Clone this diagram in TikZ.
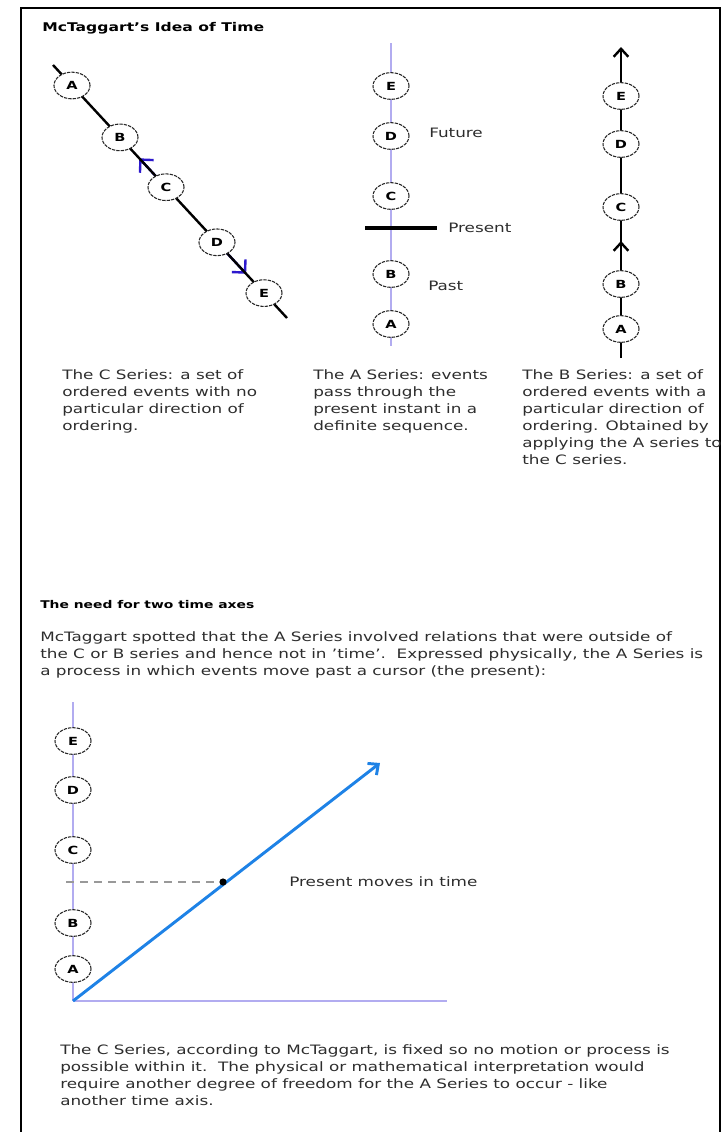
\documentclass[tikz,border=0pt]{standalone}
\usepackage{fontspec}
\setmainfont{DejaVu Sans}[FakeStretch=1.3]
\usetikzlibrary{arrows.meta,shapes.geometric,calc}
\definecolor{lav}{RGB}{178,172,240}
\definecolor{arrblue}{RGB}{30,130,230}
\definecolor{dirblue}{RGB}{45,25,205}
\definecolor{txt}{RGB}{45,45,45}
\begin{document}
\begin{tikzpicture}[x=0.75pt,y=-0.75pt,
  ev/.style={ellipse, draw=black!85, dash pattern=on 2.5pt off 0.8pt, line width=0.8pt,
    fill=white, minimum width=27pt, minimum height=20pt, inner sep=0pt,
    font=\fontsize{8.4}{9}\selectfont\bfseries},
  colt/.style={anchor=north west, align=left, inner sep=0pt,
    font=\fontsize{9.7}{12.75}\selectfont, text=txt},
  body/.style={anchor=north west, align=left, inner sep=0pt,
    font=\fontsize{9.7}{12.75}\selectfont, text=txt},
  lbl/.style={anchor=west, inner sep=0pt, font=\fontsize{9.7}{12}\selectfont, text=txt},
  head/.style={anchor=west, inner sep=0pt, font=\fontsize{9}{10}\selectfont\bfseries},
  headb/.style={anchor=west, inner sep=0pt, font=\fontsize{8}{10}\selectfont\bfseries},
  barb/.style={-{Straight Barb[length=6pt,width=11pt]}},
  dbarb/.style={-{Straight Barb[length=7pt,width=14pt]}},
  blk/.style={line width=1.8pt, black},
  lavline/.style={lav, line width=1.3pt}
]
\useasboundingbox (0,0) rectangle (724,1132);
% frame
\draw[line width=1.5pt] (21,1132) -- (21,8) -- (720,8) -- (720,1132);

% title
\node[head] (title) at (42,28) {McTaggart's Idea of Time};

% ---------- C series ----------
\coordinate (cs) at (53,65);
\coordinate (ce) at (287,318);
\coordinate (pA) at (72,85.5);
\coordinate (pB) at (120,137.4);
\coordinate (pC) at (166,187.2);
\coordinate (pD) at (217,242.3);
\coordinate (pE) at (264,293.1);
\draw[dirblue, line width=1.8pt, dbarb] ($(pB)!0.85!(pC)$) -- ($(pB)!0.42!(pC)$);
\draw[dirblue, line width=1.8pt, dbarb] ($(pD)!0.2!(pE)$) -- ($(pD)!0.62!(pE)$);
\draw[blk] (cs) -- (ce);
\node[ev] (cA) at (pA) {A};
\node[ev] (cB) at (pB) {B};
\node[ev] (cC) at (pC) {C};
\node[ev] (cD) at (pD) {D};
\node[ev] (cE) at (pE) {E};

% ---------- A series ----------
\coordinate (at) at (391,43);
\coordinate (ab) at (391,346);
\draw[lavline] (at) -- (ab);
\node[ev] (aE) at (391,86) {E};
\node[ev] (aD) at (391,136) {D};
\node[ev] (aC) at (391,196) {C};
\node[ev] (aB) at (391,274) {B};
\node[ev] (aA) at (391,324) {A};
\coordinate (pl) at (365,228);
\coordinate (pr) at (437,228);
\draw[line width=3.6pt] (pl) -- (pr);
\node[lbl] (future) at (429,133) {Future};
\node[lbl] (present) at (448,228) {Present};
\node[lbl] (past) at (428,286) {Past};

% ---------- B series ----------
\coordinate (bb) at (621,358);
\coordinate (bt) at (621,47);
\coordinate (bm1) at (621,272);
\coordinate (bm2) at (621,241);
\draw[blk, barb] (bb) -- (bt);
\draw[blk, barb] (bm1) -- (bm2);
\node[ev] (bE) at (621,96) {E};
\node[ev] (bD) at (621,144) {D};
\node[ev] (bC) at (621,207) {C};
\node[ev] (bB) at (621,284) {B};
\node[ev] (bA) at (621,329) {A};

% ---------- captions ----------
\node[colt] (capC) at (62,369) {The C Series: a set of\\ordered events with no\\particular direction of\\ordering.};
\node[colt] (capA) at (313,369) {The A Series: events\\pass through the\\present instant in a\\definite sequence.};
\node[colt] (capB) at (522,369) {The B Series: a set of\\ordered events with a\\particular direction of\\ordering. Obtained by\\applying the A series to\\the C series.};

% ---------- section 2 ----------
\node[headb] (head2) at (40,605) {The need for two time axes};
\node[body] (para1) at (40,631) {McTaggart spotted that the A Series involved relations that were outside of\\the C or B series and hence not in 'time'.\ \ Expressed physically, the A Series is\\a process in which events move past a cursor (the present):};

% bottom diagram
\coordinate (o) at (73,1001);
\coordinate (vt) at (73,702);
\coordinate (hx) at (447,1001);
\coordinate (tip) at (380,763);
\draw[lavline] (o) -- (vt);
\draw[lav, line width=2.2pt] (o) -- (hx);
\node[ev] (dE) at (73,741) {E};
\node[ev] (dD) at (73,790) {D};
\node[ev] (dC) at (73,850) {C};
\node[ev] (dB) at (73,923) {B};
\node[ev] (dA) at (73,969) {A};
\coordinate (dl) at (66,882);
\coordinate (dot) at (223,882);
\draw[black!40, line width=1.1pt, dash pattern=on 6pt off 4.5pt] (dl) -- (dot);
\draw[arrblue, line width=2.2pt, -{Straight Barb[length=6pt,width=11pt]}] (o) -- (tip);
\fill (dot) circle (3.6);
\node[lbl] (pmove) at (289,882) {Present moves in time};

\node[body] (para2) at (60,1044) {The C Series, according to McTaggart, is fixed so no motion or process is\\possible within it.\ \ The physical or mathematical interpretation would\\require another degree of freedom for the A Series to occur - like\\another time axis.};
\end{tikzpicture}
\end{document}
